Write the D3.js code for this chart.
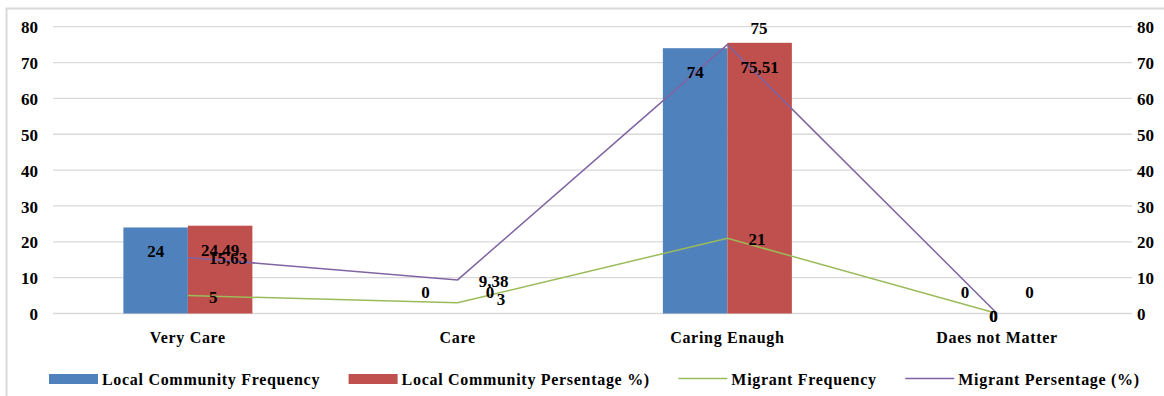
<!DOCTYPE html>
<html>
<head>
<meta charset="utf-8">
<script src="https://cdn.jsdelivr.net/npm/d3@7"></script>
<style>
  html, body { margin: 0; padding: 0; background: #fff; }
  svg { display: block; }
  text { font-family: "Liberation Serif", "Times New Roman", serif; fill: #000; }
</style>
</head>
<body>
<svg id="chart" width="1164" height="396"></svg>
<script>
// Categories and series
const categories = ["Very Care", "Care", "Caring Enaugh", "Daes not Matter"];
const localFrequency = [24, 0, 74, 0];
const localPercentage = [24.49, 0, 75.51, 0];
const migrantFrequency = [5, 3, 21, 0];
const migrantPercentage = [15.63, 9.38, 75, 0];
const yTicks = [0, 10, 20, 30, 40, 50, 60, 70, 80];
const seriesNames = [
  "Local Community Frequency",
  "Local Community Persentage %)",
  "Migrant Frequency",
  "Migrant Persentage (%)"
];

const colors = {
  blue: "#4f81bd",
  red: "#c0504d",
  green: "#9bbb59",
  purple: "#8064a2",
  grid: "#d9d9d9"
};

const svg = d3.select("#chart");
const W = 1164;

// outer chart frame
svg.append("rect")
  .attr("x", 6.5).attr("y", 8.5)
  .attr("width", 1200).attr("height", 400)
  .attr("fill", "none")
  .attr("stroke", colors.grid)
  .attr("stroke-width", 2);

const x = d3.scaleBand().domain(categories).range([53, 1132]).padding(0);
const y = d3.scaleLinear().domain([0, 80]).range([313.5, 26.7]);
const barW = 64.5;

// gridlines
svg.append("g").selectAll("line").data(yTicks).join("line")
  .attr("x1", 53).attr("x2", 1132)
  .attr("y1", d => y(d)).attr("y2", d => y(d))
  .attr("stroke", colors.grid).attr("stroke-width", 1.3);

// left and right value axes
const tickFont = g => g.selectAll("text")
  .attr("font-size", 17).attr("font-weight", "bold")
  .attr("font-family", "Liberation Serif, Times New Roman, serif").attr("fill", "#000");

const leftAxis = svg.append("g").attr("transform", "translate(38,0)")
  .call(d3.axisLeft(y).tickValues(yTicks).tickSize(0).tickPadding(0).tickFormat(d3.format("d")));
leftAxis.select(".domain").remove();
leftAxis.call(tickFont).selectAll("text").attr("dy", "0.36em");

const rightAxis = svg.append("g").attr("transform", "translate(1137,0)")
  .call(d3.axisRight(y).tickValues(yTicks).tickSize(0).tickPadding(0).tickFormat(d3.format("d")));
rightAxis.select(".domain").remove();
rightAxis.call(tickFont).selectAll("text").attr("dy", "0.36em");

// category axis labels
svg.append("g").selectAll("text").data(categories).join("text")
  .attr("x", d => x(d) + x.bandwidth() / 2)
  .attr("y", 343)
  .attr("text-anchor", "middle")
  .attr("font-size", 16).attr("font-weight", "bold")
  .attr("letter-spacing", 0.7)
  .text(d => d);

const fmt = v => String(v).replace(".", ",");
const cx = c => x(c) + x.bandwidth() / 2;

// clustered bars
const barSeries = [
  { values: localFrequency, color: colors.blue, offset: -barW },
  { values: localPercentage, color: colors.red, offset: 0 }
];
barSeries.forEach(s => {
  svg.append("g").selectAll("rect").data(categories).join("rect")
    .attr("x", (c) => cx(c) + s.offset)
    .attr("width", barW)
    .attr("y", (c, i) => y(s.values[i]))
    .attr("height", (c, i) => y(0) - y(s.values[i]))
    .attr("fill", s.color);
});

// migrant lines
const lineSeries = [
  { name: "freq", values: migrantFrequency, color: colors.green },
  { name: "pct", values: migrantPercentage, color: colors.purple }
];
const line = d3.line().x(d => cx(d.c)).y(d => y(d.v));
lineSeries.forEach(s => {
  svg.append("path")
    .datum(categories.map((c, i) => ({ c, v: s.values[i] })))
    .attr("d", line)
    .attr("fill", "none")
    .attr("stroke", s.color)
    .attr("stroke-width", 1.5);
});

// bar value labels
const labelG = svg.append("g")
  .attr("font-size", 17).attr("font-weight", "bold");
barSeries.forEach(s => {
  labelG.append("g").selectAll("text").data(categories).join("text")
    .attr("x", c => cx(c) + s.offset + barW / 2)
    .attr("y", (c, i) => s.values[i] === 0 ? y(0) - 16 : y(s.values[i]) + 30)
    .attr("text-anchor", "middle")
    .text((c, i) => fmt(s.values[i]));
});

// line value labels sit to the right of each point, with a few nudged clear of neighbours
const nudge = {
  "freq|Care": { dx: 39, dy: 2 },
  "pct|Caring Enaugh": { dx: 23, dy: -11 },
  "freq|Daes not Matter": { dx: -8, dy: 8 },
  "pct|Daes not Matter": { dx: -8, dy: 8 }
};
lineSeries.forEach(s => {
  labelG.append("g").selectAll("text").data(categories).join("text")
    .attr("x", c => cx(c) + (nudge[s.name + "|" + c] || { dx: 21 }).dx)
    .attr("y", (c, i) => y(s.values[i]) + (nudge[s.name + "|" + c] || { dy: 7 }).dy)
    .attr("text-anchor", "start")
    .text((c, i) => fmt(s.values[i]));
});

// legend
const legendItems = [
  { name: seriesNames[0], color: colors.blue, type: "rect" },
  { name: seriesNames[1], color: colors.red, type: "rect" },
  { name: seriesNames[2], color: colors.green, type: "line" },
  { name: seriesNames[3], color: colors.purple, type: "line" }
];
const legend = svg.append("g");
let lx = 49;
legendItems.forEach(item => {
  if (item.type === "rect") {
    legend.append("rect")
      .attr("x", lx).attr("y", 374).attr("width", 49).attr("height", 10)
      .attr("fill", item.color);
  } else {
    legend.append("line")
      .attr("x1", lx).attr("x2", lx + 49)
      .attr("y1", 378.5).attr("y2", 378.5)
      .attr("stroke", item.color).attr("stroke-width", 1.5);
  }
  const t = legend.append("text")
    .attr("x", lx + 53).attr("y", 385)
    .attr("font-size", 16).attr("font-weight", "bold")
    .attr("letter-spacing", 0.7)
    .text(item.name);
  lx += 53 + t.node().getComputedTextLength() + 28.5;
});
</script>
</body>
</html>
